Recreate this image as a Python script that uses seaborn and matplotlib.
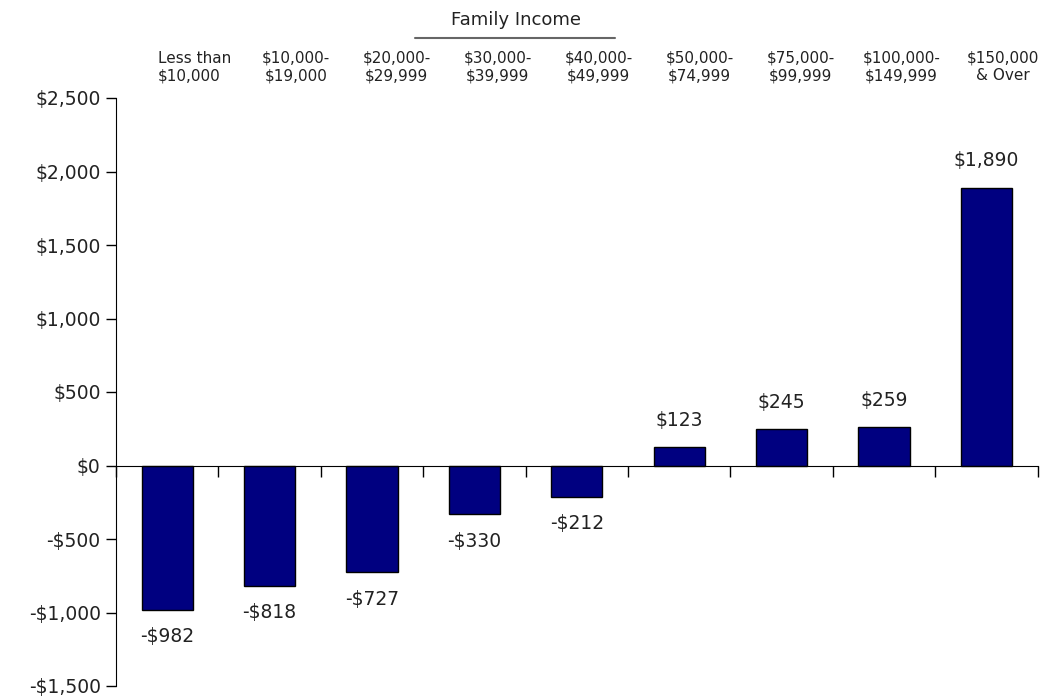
import numpy as np
import pandas as pd
import seaborn as sns
import matplotlib.pyplot as plt
from matplotlib.ticker import FuncFormatter, FixedLocator

categories = ['Less than\n$10,000', '$10,000-\n$19,000', '$20,000-\n$29,999',
              '$30,000-\n$39,999', '$40,000-\n$49,999', '$50,000-\n$74,999',
              '$75,000-\n$99,999', '$100,000-\n$149,999', '$150,000\n& Over']
values = [-982, -818, -727, -330, -212, 123, 245, 259, 1890]
title = 'Family Income'

sns.set_style('white')
plt.rcParams['font.family'] = ['DejaVu Sans']
text_color = '#222222'

df = pd.DataFrame({'cat': categories, 'val': values})

fig = plt.figure(figsize=(10.47, 6.96), dpi=100)
ax = fig.add_axes([116 / 1047, 10 / 696, 921.6 / 1047, 588 / 696])

sns.barplot(data=df, x='cat', y='val', color='#000080', edgecolor='black',
            linewidth=1, width=0.5, saturation=1, ax=ax)

ax.set_xlim(-0.5, len(categories) - 0.5)
ax.set_ylim(-1500, 2500)
ax.yaxis.set_major_locator(FixedLocator(np.arange(-1500, 2501, 500)))

def money(v, pos=None):
    s = '${:,.0f}'.format(abs(v))
    return '-' + s if v < 0 else s

ax.yaxis.set_major_formatter(FuncFormatter(money))
ax.tick_params(axis='y', direction='out', length=7, width=1, color='black',
               labelsize=13.5, labelcolor=text_color, pad=4, left=True)

# x axis line at zero with ticks between categories
for s in ['top', 'right']:
    ax.spines[s].set_visible(False)
ax.spines['left'].set_color('black')
ax.spines['bottom'].set_position(('data', 0))
ax.spines['bottom'].set_color('black')
ax.set_xticks(np.arange(-0.5, len(categories), 1.0))
ax.set_xticklabels([])
ax.tick_params(axis='x', direction='out', length=8, width=1, color='black', bottom=True)
ax.set_xlabel('')
ax.set_ylabel('')

# value labels
for i, v in enumerate(values):
    off = 19.5 if v > 0 else -19.5
    ax.annotate(money(v), (i, v), xytext=(0, off), textcoords='offset points',
                ha='center', va='center', fontsize=13.5, color=text_color)

# category labels on top
trans = ax.get_xaxis_transform()
for i, c in enumerate(categories):
    ax.text(0.27 + 0.986 * i, 1.025, c, transform=trans, ha='center', va='bottom',
            fontsize=11, color=text_color, linespacing=1.2, clip_on=False,
            multialignment='left' if i == 0 else 'center')

fig.text(0.493, 1 - 20 / 696, title, ha='center', va='center', fontsize=13, color=text_color)
fig.add_artist(plt.Line2D([415 / 1047, 615 / 1047], [1 - 38 / 696, 1 - 38 / 696],
                          color='#666666', linewidth=1.5))

fig.savefig('out.png', dpi=100)
